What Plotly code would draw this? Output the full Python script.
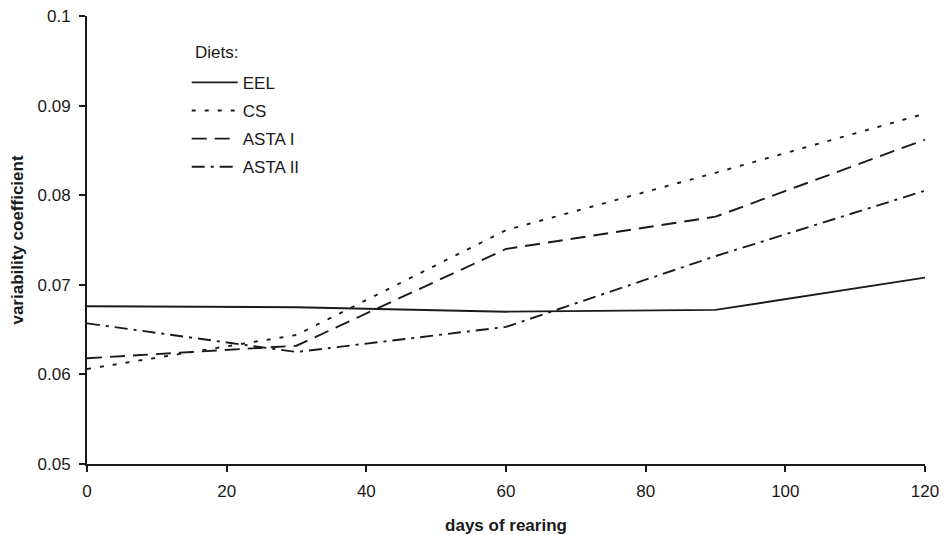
import plotly.graph_objects as go

days = [0, 30, 60, 90, 120]
eel = [0.0676, 0.0675, 0.0670, 0.0672, 0.0708]
cs = [0.0606, 0.0644, 0.0761, 0.0825, 0.0891]
asta1 = [0.0618, 0.0632, 0.0740, 0.0776, 0.0862]
asta2 = [0.0657, 0.0625, 0.0653, 0.0732, 0.0805]

series_names = ["EEL", "CS", "ASTA I", "ASTA II"]
series_values = [eel, cs, asta1, asta2]
dashes = ["solid", "4px,9px", "15px,8px", "13px,6px,3px,6px"]

x_ticks = [0, 20, 40, 60, 80, 100, 120]
y_ticks = [0.05, 0.06, 0.07, 0.08, 0.09, 0.1]
y_tick_labels = ["0.05", "0.06", "0.07", "0.08", "0.09", "0.1"]

fig = go.Figure()
for name, vals, d in zip(series_names, series_values, dashes):
    fig.add_trace(go.Scatter(
        x=days, y=vals, mode="lines", name=name, legendgroup=name,
        line=dict(color="#1a1a1a", width=1.9, dash=d),
    ))

font_family = "Liberation Sans, Arial, sans-serif"
# page body has an 8px default margin; compensate so the plot lands where the reference has it
fig.update_layout(
    width=939, height=527,
    margin=dict(l=79, r=22, t=8, b=71, autoexpand=False),
    paper_bgcolor="white", plot_bgcolor="white",
    font=dict(family=font_family, size=17, color="#1a1a1a"),
    showlegend=True,
    legend=dict(
        x=0.119, y=0.891, xanchor="left", yanchor="top",
        bgcolor="rgba(0,0,0,0)", tracegroupgap=3, itemwidth=46,
        font=dict(size=17),
    ),
    annotations=[dict(
        text="Diets:", xref="paper", yref="paper", x=0.1265, y=0.9196,
        xanchor="left", yanchor="middle", showarrow=False,
        font=dict(size=17),
    )],
    xaxis=dict(
        range=[0, 120], tickvals=x_ticks, showgrid=False, zeroline=False,
        showline=True, linecolor="#1a1a1a", linewidth=2, automargin=False,
        ticks="outside", ticklen=6, tickwidth=2, tickcolor="#1a1a1a",
        ticklabelstandoff=5, ticklabeloverflow="allow",
        title=dict(text="<b>days of rearing</b>", font=dict(size=17), standoff=21),
    ),
    yaxis=dict(
        range=[0.05, 0.1], tickvals=y_ticks, ticktext=y_tick_labels,
        showgrid=False, zeroline=False, automargin=False,
        showline=True, linecolor="#1a1a1a", linewidth=2,
        ticks="outside", ticklen=6, tickwidth=2, tickcolor="#1a1a1a",
        ticklabelstandoff=5, ticklabeloverflow="allow",
        title=dict(text="<b>variability coefficient</b>", font=dict(size=17), standoff=17),
    ),
)

fig.write_html("out.html")
